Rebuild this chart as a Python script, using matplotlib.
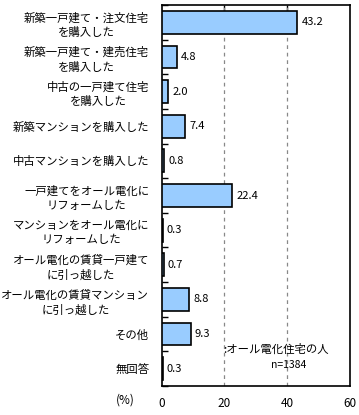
import matplotlib
matplotlib.use("Agg")
import matplotlib.pyplot as plt
import numpy as np

plt.rcParams['font.family'] = ['Noto Sans CJK JP', 'DejaVu Sans']

# Dados do gráfico
categorias = [
    "新築一戸建て・注文住宅\nを購入した",
    "新築一戸建て・建売住宅\nを購入した",
    "中古の一戸建て住宅\nを購入した",
    "新築マンションを購入した",
    "中古マンションを購入した",
    "一戸建てをオール電化に\nリフォームした",
    "マンションをオール電化に\nリフォームした",
    "オール電化の賃貸一戸建て\nに引っ越した",
    "オール電化の賃貸マンション\nに引っ越した",
    "その他",
    "無回答",
]
valores = [43.2, 4.8, 2.0, 7.4, 0.8, 22.4, 0.3, 0.7, 8.8, 9.3, 0.3]
xticks = [0, 20, 40, 60]

fig = plt.figure(figsize=(3.59, 4.15), dpi=100)
ax = fig.add_axes([0.4504, 0.0699, 0.5245, 0.918])

y = np.arange(len(categorias))
ax.barh(y, valores, height=0.66, color="#99ccff", edgecolor="black", linewidth=1.2, zorder=3)

for yi, v in zip(y, valores):
    ax.text(v + 1.3, yi, f"{v:.1f}", va="center", ha="left", fontsize=8)

ax.set_xlim(0, 60)
ax.set_ylim(len(categorias) - 0.5, -0.5)

# grade tracejada
for gx in [20, 40]:
    ax.axvline(gx, color="#888888", linestyle=(0, (3, 3)), linewidth=0.9, zorder=1)

ax.set_yticks(y)
ax.set_yticklabels(categorias, fontsize=8.2, multialignment="center", linespacing=1.4)
ax.tick_params(axis="y", length=0, pad=9)
ax.set_yticks(np.arange(len(categorias) + 1) - 0.5, minor=True)
ax.tick_params(axis="y", which="minor", direction="in", length=4, width=1)

ax.set_xticks(xticks)
ax.set_xticklabels([str(t) for t in xticks], fontsize=8.5)
ax.tick_params(axis="x", length=0, pad=8)
sec = ax.secondary_xaxis("top")
sec.set_xticks([20, 40])
sec.set_xticklabels([])
sec.tick_params(direction="in", length=5, width=1)
sec.spines["top"].set_visible(False)

for s in ax.spines.values():
    s.set_linewidth(1.2)

fig.text(125 / 359, 1 - 400 / 415, "(%)", fontsize=8.5, ha="center", va="center")

ax.text(19.6, 9.45, ":オール電化住宅の人", fontsize=8.2, ha="left", va="center")
ax.text(40.5, 9.9, "n=1384", fontsize=7.5, ha="center", va="center")

fig.savefig("out.png", dpi=100)
